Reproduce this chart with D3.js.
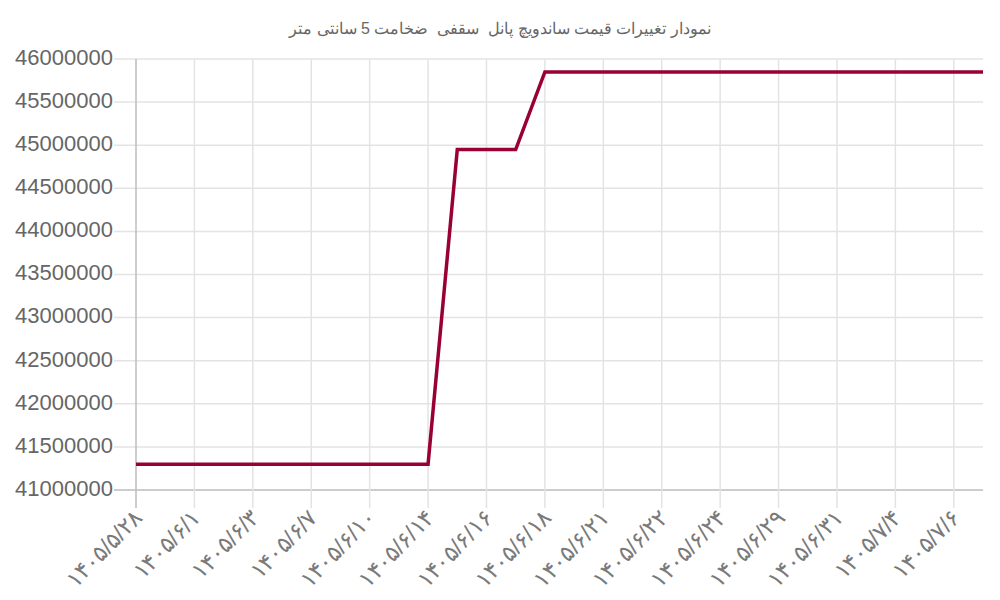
<!DOCTYPE html>
<html>
<head>
<meta charset="utf-8">
<script src="https://cdn.jsdelivr.net/npm/d3@7"></script>
<style>
  body { margin: 0; background: #fff; }
  svg text { font-family: "Helvetica Neue", Helvetica, Arial, sans-serif; fill: #666; }
</style>
</head>
<body>
<svg id="chart" width="1000" height="600"></svg>
<script>
var title = "نمودار تغییرات قیمت ساندویچ پانل  سقفی  ضخامت 5 سانتی متر";

// every date in the series; only every other one is shown on the axis
var dates = [
  "۱۴۰۵/۵/۲۸", "۱۴۰۵/۵/۳۱", "۱۴۰۵/۶/۱", "۱۴۰۵/۶/۲", "۱۴۰۵/۶/۳",
  "۱۴۰۵/۶/۴", "۱۴۰۵/۶/۷", "۱۴۰۵/۶/۸", "۱۴۰۵/۶/۱۰", "۱۴۰۵/۶/۱۱",
  "۱۴۰۵/۶/۱۴", "۱۴۰۵/۶/۱۵", "۱۴۰۵/۶/۱۶", "۱۴۰۵/۶/۱۷", "۱۴۰۵/۶/۱۸",
  "۱۴۰۵/۶/۲۰", "۱۴۰۵/۶/۲۱", "۱۴۰۵/۶/۲۱", "۱۴۰۵/۶/۲۲", "۱۴۰۵/۶/۲۳",
  "۱۴۰۵/۶/۲۴", "۱۴۰۵/۶/۲۵", "۱۴۰۵/۶/۲۹", "۱۴۰۵/۶/۳۰", "۱۴۰۵/۶/۳۱",
  "۱۴۰۵/۷/۱", "۱۴۰۵/۷/۴", "۱۴۰۵/۷/۵", "۱۴۰۵/۷/۶", "۱۴۰۵/۷/۷"
];

var prices = [
  41300000, 41300000, 41300000, 41300000, 41300000,
  41300000, 41300000, 41300000, 41300000, 41300000,
  41300000, 44950000, 44950000, 44950000, 45850000,
  45850000, 45850000, 45850000, 45850000, 45850000,
  45850000, 45850000, 45850000, 45850000, 45850000,
  45850000, 45850000, 45850000, 45850000, 45850000
];

var yTicks = [41000000, 41500000, 42000000, 42500000, 43000000, 43500000,
              44000000, 44500000, 45000000, 45500000, 46000000];

var plotLeft = 136, plotRight = 983, plotTop = 59, plotBottom = 490;

var svg = d3.select("#chart");

var x = d3.scaleLinear().domain([0, dates.length - 1]).range([plotLeft, plotRight]);
var y = d3.scaleLinear().domain([41000000, 46000000]).range([plotBottom, plotTop]);

var shown = d3.range(0, dates.length, 2);

// title
svg.append("text")
  .attr("x", 500).attr("y", 30)
  .attr("text-anchor", "middle")
  .attr("dominant-baseline", "middle")
  .style("font-size", "16px")
  .style("white-space", "pre")
  .text(title);

// horizontal grid + y ticks
svg.append("g").selectAll("line")
  .data(yTicks)
  .enter().append("line")
  .attr("x1", plotLeft - 22).attr("x2", plotRight)
  .attr("y1", function(d){ return y(d); })
  .attr("y2", function(d){ return y(d); })
  .attr("stroke", function(d, i){ return i == 0 ? "#bdbdbd" : "#e3e3e3"; })
  .attr("stroke-width", 1.5);

// vertical grid + x ticks
svg.append("g").selectAll("line")
  .data(shown)
  .enter().append("line")
  .attr("x1", function(d){ return x(d); })
  .attr("x2", function(d){ return x(d); })
  .attr("y1", plotTop).attr("y2", plotBottom + 18)
  .attr("stroke", function(d, i){ return i == 0 ? "#bdbdbd" : "#e3e3e3"; })
  .attr("stroke-width", 1.5);

// y labels
svg.append("g").selectAll("text")
  .data(yTicks)
  .enter().append("text")
  .attr("x", plotLeft - 23)
  .attr("y", function(d){ return y(d); })
  .attr("text-anchor", "end")
  .attr("dominant-baseline", "middle")
  .style("font-size", "22px")
  .text(function(d){ return d3.format("d")(d); });

// x labels
svg.append("g").selectAll("text")
  .data(shown)
  .enter().append("text")
  .attr("transform", function(d){ return "translate(" + (x(d) + 3) + "," + (plotBottom + 25) + ") rotate(-46)"; })
  .attr("text-anchor", "end")
  .attr("dominant-baseline", "middle")
  .attr("direction", "ltr")
  .style("font-size", "23px")
  .style("font-weight", "300")
  .style("fill", "#7a7a7a")
  .text(function(d){ return dates[d]; });

// price line
var line = d3.line()
  .x(function(d, i){ return x(i); })
  .y(function(d){ return y(d); });

svg.append("path")
  .datum(prices)
  .attr("d", line)
  .attr("fill", "none")
  .attr("stroke", "#990033")
  .attr("stroke-width", 3.5)
  .attr("stroke-linejoin", "miter");
</script>
</body>
</html>
